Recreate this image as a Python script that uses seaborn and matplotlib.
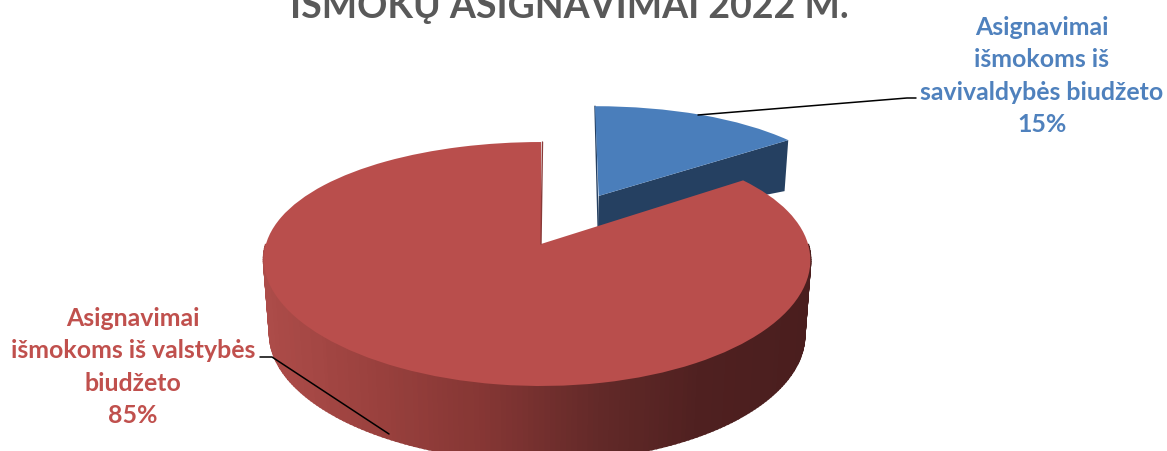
import numpy as np
import matplotlib
matplotlib.use('Agg')
import matplotlib.pyplot as plt
from matplotlib.transforms import Transform
import seaborn as sns

title = 'IŠMOKŲ ASIGNAVIMAI 2022 M.'
shares = [15, 85]
labels = ['Asignavimai\nišmokoms iš\nsavivaldybės biudžeto\n15%',
          'Asignavimai\nišmokoms iš valstybės\nbiudžeto\n85%']
top_colors = ['#4a7ebb', '#b94e4c']
text_colors = ['#4f81bd', '#c0504d']
explode = [0.487, 0]

# Pie position and fake 3D camera, in pixels
cx, cy = 541, 245
rx, ry = 271, 118.7
persp = 0.164
depth_px = 75

blue_end = 2 * np.pi * shares[0] / sum(shares)
mid = blue_end / 2
ex, ey = explode[0] * np.sin(mid), explode[0] * np.cos(mid)


def project(x, y, depth=0.0, blue=False):
    s = 1 / (1 + persp * y)
    px = rx * x * s - 4 * x ** 2 + 10 * x * y
    if blue:
        # the exploded slice leans a little to the right in the original
        px = px + 1 + 1.5 * (y - ey)
    return cx + px * (1 - 0.022 * depth), cy - ry * y * s + depth_px * depth


class PieProjection(Transform):
    input_dims = 2
    output_dims = 2

    def __init__(self, blue=False):
        super().__init__()
        self.blue = blue

    def transform_non_affine(self, values):
        values = np.asarray(values)
        px, py = project(values[:, 0], values[:, 1], blue=self.blue)
        return np.column_stack([px, py])


sns.set_theme(style='white')
plt.rcParams['font.family'] = ['Lato', 'DejaVu Sans']

fig, ax = plt.subplots(figsize=(11.67, 4.52), dpi=100)
fig.subplots_adjust(0, 0, 1, 1)

# Blue cut face, deeper at the rim than at the tip
r = np.array([0, 1, 1, 0])
d = np.array([0.427, 0.68, 0, 0])
px, py = project(ex + r * np.sin(blue_end), ey + r * np.cos(blue_end), d, blue=True)
ax.fill(px, py, color='#254061', lw=0, zorder=1)

# Thin dark sliver on the left edge of the blue slice
px, py = project(np.array([ex, ex]), np.array([ey + 1, ey]), np.array([0, 0.427]), blue=True)
ax.plot(px, py, color='#254061', lw=1.0, zorder=1)

# Red rim, front half only, strips shaded from left to right
rim = np.linspace(np.pi / 2, 3 * np.pi / 2, 180)
palette = sns.blend_palette(['#ad4c49', '#9a413e', '#853634', '#642a29', '#4f2020', '#4a1e1e'], 100)
for t0, t1 in zip(rim[:-1], rim[1:]):
    xs = np.sin([t0, t1, t1, t0])
    ys = np.cos([t0, t1, t1, t0])
    px, py = project(xs, ys, np.array([0, 0, 1, 1]))
    frac = np.clip((px.mean() - 262) / (812 - 262), 0, 0.99)
    ax.fill(px, py, color=palette[int(frac * 100)], lw=1.5, zorder=2)

# Top faces
wedges, _ = ax.pie(shares, colors=top_colors, explode=explode, startangle=90,
                   counterclock=False, wedgeprops={'linewidth': 0})
wedges[0].set_transform(PieProjection(blue=True) + ax.transData)
wedges[0].set_zorder(1.5)
wedges[1].set_transform(PieProjection() + ax.transData)
wedges[1].set_zorder(3)

# Dark sliver on the red cut
px, py = project(np.array([0, 0]), np.array([1, 0]))
ax.plot(px + np.array([1.5, 0]), py, color='#8a3a38', lw=1, zorder=3)

# Pie resets these, so set them after
ax.set_aspect('auto')
ax.set_xlim(0, 1167)
ax.set_ylim(452, 0)
ax.axis('off')

# Leader lines
ax.plot([698, 907, 916], [116, 99, 99], color='black', lw=1.1, zorder=4)
ax.plot([260, 272, 389], [358, 358, 435], color='black', lw=1.1, zorder=4)

ax.text(569, 18, title, ha='center', va='baseline', fontsize=27, fontweight='bold',
        color='#595959', clip_on=True)
ax.text(1042, 132, labels[0], ha='center', va='baseline', fontsize=17.9, fontweight='bold',
        color=text_colors[0], linespacing=1.49, multialignment='center')
ax.text(133, 423, labels[1], ha='center', va='baseline', fontsize=17.9, fontweight='bold',
        color=text_colors[1], linespacing=1.49, multialignment='center')

fig.savefig('out.png', dpi=100)
